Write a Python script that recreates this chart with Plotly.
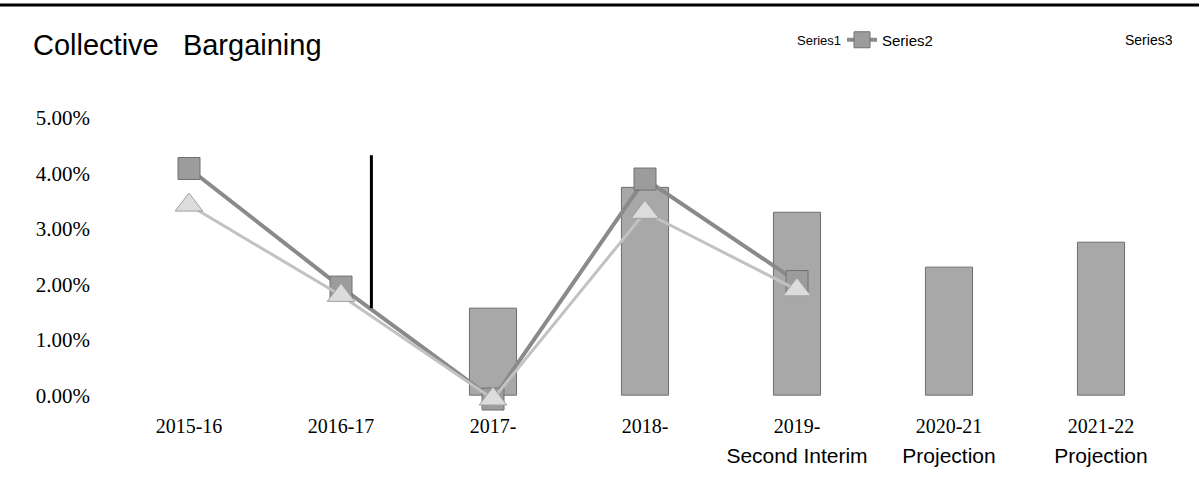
import plotly.graph_objects as go

categories = ["2015-16", "2016-17", "2017-", "2018-", "2019-", "2020-21", "2021-22"]
sublabels = ["", "", "", "", "Second Interim", "Projection", "Projection"]
series1 = [None, None, 1.57, 3.75, 3.30, 2.31, 2.76]
series2 = [4.09, 1.95, -0.07, 3.90, 2.05, None, None]
series3 = [3.43, 1.80, -0.07, 3.30, 1.90, None, None]
ytick_vals = [0, 1, 2, 3, 4, 5]
ytick_text = ["0.00%", "1.00%", "2.00%", "3.00%", "4.00%", "5.00%"]

SERIF = "Liberation Serif, Times New Roman, serif"
SANS = "Liberation Sans, Arial, sans-serif"
NARROW = "Liberation Sans Narrow, Liberation Sans, Arial, sans-serif"

ticktext = []
for c, s in zip(categories, sublabels):
    t = f"<span style='font-family:{SERIF};font-size:20px'>{c}</span>"
    if s:
        t += f"<br><span style='font-family:{SANS};font-size:21px'>{s}</span>"
    ticktext.append(t)

fig = go.Figure()
fig.add_trace(go.Bar(
    x=categories, y=series1, name="Series1", width=0.31,
    marker=dict(color="#a8a8a8", line=dict(color="#6e6e6e", width=1)),
    showlegend=False,
))
fig.add_trace(go.Scatter(
    x=categories, y=series2, name="Series2", mode="lines+markers",
    line=dict(color="#8a8a8a", width=4),
    marker=dict(symbol="square", size=22, color="#9c9c9c",
                line=dict(color="#707070", width=1)),
    cliponaxis=False, connectgaps=False,
))
fig.add_trace(go.Scatter(
    x=categories, y=series3, name="Series3", mode="lines+markers",
    line=dict(color="#c2c2c2", width=3),
    marker=dict(symbol="triangle-up", size=24, color="#dcdcdc",
                line=dict(color="#a0a0a0", width=1)),
    cliponaxis=False, showlegend=False,
))

fig.update_layout(
    width=1199, height=478,
    margin=dict(l=113, r=22, t=107, b=69),
    paper_bgcolor="white", plot_bgcolor="white",
    title=dict(text="Collective\u00a0\u00a0\u00a0Bargaining", x=33/1199, xanchor="left",
               y=1 - 45/478, yanchor="middle",
               font=dict(family=SANS, size=29, color="black")),
    legend=dict(orientation="h", x=(842-113)/1064, xanchor="left",
                y=(409-40)/302, yanchor="middle", itemwidth=30,
                font=dict(family=NARROW, size=15, color="black"),
                bgcolor="rgba(0,0,0,0)"),
    font=dict(family=SERIF, color="black"),
    xaxis=dict(range=[-0.5, 6.5], tickmode="array", tickvals=categories, ticktext=ticktext,
               showgrid=False, showline=False, zeroline=False, ticks="",
               tickfont=dict(family=SERIF, size=23, color="black")),
    yaxis=dict(range=[-0.25, 5.2], tickmode="array", tickvals=ytick_vals, ticktext=ytick_text,
               showgrid=False, showline=False, zeroline=False, ticks="",
               ticklabelstandoff=22,
               tickfont=dict(family=SERIF, size=21, color="black")),
    annotations=[
        dict(text="Series1", xref="paper", yref="paper", x=(795-113)/1064, xanchor="left",
             y=(409-40)/302, yanchor="middle", showarrow=False,
             font=dict(family=NARROW, size=13, color="black")),
        dict(text="Series3", xref="paper", yref="paper", x=(1123-113)/1064, xanchor="left",
             y=(409-40)/302, yanchor="middle", showarrow=False,
             font=dict(family=NARROW, size=14, color="black")),
    ],
    shapes=[
        dict(type="line", xref="paper", yref="paper", x0=-113/1064, x1=1086/1064,
             y0=(409-5)/302, y1=(409-5)/302, line=dict(color="black", width=3)),
        dict(type="line", xref="x", yref="y", x0=1.2, x1=1.2, y0=1.57, y1=4.33,
             line=dict(color="black", width=3)),
    ],
)

fig.write_html("out.html")
